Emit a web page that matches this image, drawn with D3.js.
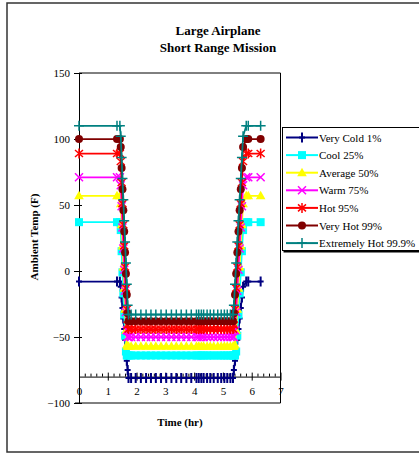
<!DOCTYPE html>
<html>
<head>
<meta charset="utf-8">
<script src="https://cdn.jsdelivr.net/npm/d3@7"></script>
<style>
  body { margin: 0; background: #fff; }
  svg { display: block; }
  text { font-family: "Liberation Serif", "Times New Roman", serif; fill: #000; }
</style>
</head>
<body>
<svg id="chart" width="419" height="454"></svg>
<script>
// Mission time points (hours): ground, climb, cruise, descent, ground
const timeHr = [0, 1.32, 1.42,
  1.45, 1.48, 1.51, 1.54, 1.57, 1.60, 1.63, 1.66, 1.69,
  1.72, 1.81, 1.97, 2.15, 2.33, 2.50, 2.67, 2.85, 3.03, 3.21, 3.38, 3.55, 3.73, 3.90,
  4.08, 4.16, 4.25, 4.33, 4.45, 4.56, 4.68, 4.82, 4.94, 5.05, 5.15, 5.26, 5.35,
  5.38, 5.42, 5.46, 5.50, 5.54, 5.58, 5.62, 5.66, 5.70,
  5.81, 5.88, 6.31];

// Ambient temperature (F) for each climate percentile
const veryCold = [-8, -8, -8,
  -12, -20, -28, -36, -44, -52, -60, -68, -75,
  -81, -81, -81, -81, -81, -81, -81, -81, -81, -81, -81, -81, -81, -81,
  -81, -81, -81, -81, -81, -81, -81, -81, -81, -81, -81, -81, -81,
  -75, -68, -60, -52, -44, -36, -28, -20, -12,
  -8, -8, -8];
const cool = [37, 37, 37,
  31, 15, -1, -17, -33, -49, -61, -64, -64,
  -64, -64, -64, -64, -64, -64, -64, -64, -64, -64, -64, -64, -64, -64,
  -64, -64, -64, -64, -64, -64, -64, -64, -64, -64, -64, -64, -64,
  -64, -64, -61, -49, -33, -17, -1, 15, 31,
  37, 37, 37];
const average = [57, 57, 57,
  51, 35, 19, 3, -13, -29, -45, -56, -57,
  -57, -57, -57, -57, -57, -57, -57, -57, -57, -57, -57, -57, -57, -57,
  -57, -57, -57, -57, -57, -57, -57, -57, -57, -57, -57, -57, -57,
  -57, -56, -45, -29, -13, 3, 19, 35, 51,
  57, 57, 57];
const warm = [71, 71, 71,
  65, 49, 33, 17, 1, -15, -31, -45, -50,
  -50, -50, -50, -50, -50, -50, -50, -50, -50, -50, -50, -50, -50, -50,
  -50, -50, -50, -50, -50, -50, -50, -50, -50, -50, -50, -50, -50,
  -50, -45, -31, -15, 1, 17, 33, 49, 65,
  71, 71, 71];
const hot = [89, 89, 89,
  83, 67, 51, 35, 19, 3, -13, -29, -41,
  -44, -44, -44, -44, -44, -44, -44, -44, -44, -44, -44, -44, -44, -44,
  -44, -44, -44, -44, -44, -44, -44, -44, -44, -44, -44, -44, -44,
  -41, -29, -13, 3, 19, 35, 51, 67, 83,
  89, 89, 89];
const veryHot = [100, 100, 100,
  94, 78, 62, 46, 30, 14, -2, -18, -32,
  -38, -38, -38, -38, -38, -38, -38, -38, -38, -38, -38, -38, -38, -38,
  -38, -38, -38, -38, -38, -38, -38, -38, -38, -38, -38, -38, -38,
  -32, -18, -2, 14, 30, 46, 62, 78, 94,
  100, 100, 100];
const extremelyHot = [110, 110, 110,
  102, 86, 70, 54, 38, 22, 6, -10, -26,
  -33, -33, -33, -33, -33, -33, -33, -33, -33, -33, -33, -33, -33, -33,
  -33, -33, -33, -33, -33, -33, -33, -33, -33, -33, -33, -33, -33,
  -26, -10, 6, 22, 38, 54, 70, 86, 102,
  110, 110, 110];

const seriesNames = ["Very Cold 1%", "Cool 25%", "Average 50%", "Warm 75%",
  "Hot 95%", "Very Hot 99%", "Extremely Hot 99.9%"];
const xTicks = [0, 1, 2, 3, 4, 5, 6, 7];
const yTicks = [-100, -50, 0, 50, 100, 150];

const series = [
  { name: seriesNames[0], values: veryCold,     color: "#000080", marker: "bar" },
  { name: seriesNames[1], values: cool,         color: "#00FFFF", marker: "square" },
  { name: seriesNames[2], values: average,      color: "#FFFF00", marker: "triangle" },
  { name: seriesNames[3], values: warm,         color: "#FF00FF", marker: "cross" },
  { name: seriesNames[4], values: hot,          color: "#FF0000", marker: "star" },
  { name: seriesNames[5], values: veryHot,      color: "#800000", marker: "circle" },
  { name: seriesNames[6], values: extremelyHot, color: "#008080", marker: "plus" }
];

const svg = d3.select("#chart");

// outer chart frame
svg.append("rect").attr("x", 7).attr("y", 3).attr("width", 430).attr("height", 449)
  .attr("fill", "#fff").attr("stroke", "#333").attr("stroke-width", 1.5);

const plot = { left: 79, right: 280.5, top: 73, bottom: 403 };
const x = d3.scaleLinear().domain([0, 7]).range([plot.left, plot.right]);
const y = d3.scaleLinear().domain([-100, 150]).range([plot.bottom, plot.top]);

// title
svg.append("text").attr("x", 218).attr("y", 35).attr("text-anchor", "middle")
  .attr("font-size", 13).attr("font-weight", "bold").text("Large Airplane");
svg.append("text").attr("x", 218).attr("y", 52).attr("text-anchor", "middle")
  .attr("font-size", 13).attr("font-weight", "bold").text("Short Range Mission");

// plot frame (top, right, bottom)
svg.append("path")
  .attr("d", `M${plot.left},${plot.top}H${plot.right}V${plot.bottom}H${plot.left - 4}`)
  .attr("fill", "none").attr("stroke", "#000").attr("stroke-width", 1);

// y axis
const yAxis = svg.append("g").attr("transform", `translate(${plot.left},0)`)
  .call(d3.axisLeft(y).tickValues(yTicks).tickSizeInner(5).tickSizeOuter(0).tickPadding(4)
    .tickFormat(d3.format("d")));
yAxis.selectAll("line").attr("x2", -5).attr("x1", 3);
yAxis.selectAll("text").attr("font-size", 11).attr("font-family", "Liberation Serif");
yAxis.select(".domain").attr("stroke", "#000");

// x axis drawn across the plot at -80 F
const xAxisY = y(-80);
const minorX = d3.range(0, 7.001, 0.2).filter(v => Math.abs(v - Math.round(v)) > 1e-6);
svg.append("g").attr("transform", `translate(0,${xAxisY})`)
  .call(d3.axisTop(x).tickValues(minorX).tickSize(3).tickFormat(""))
  .call(g => g.select(".domain").remove());
const xAxis = svg.append("g").attr("transform", `translate(0,${xAxisY})`)
  .call(d3.axisBottom(x).tickValues(xTicks).tickSizeInner(4).tickSizeOuter(0).tickPadding(7)
    .tickFormat(d3.format("d")));
xAxis.selectAll("line").attr("y1", -4);
xAxis.selectAll("text").attr("font-size", 11).attr("font-family", "Liberation Serif");

// axis titles
svg.append("text").attr("x", 180).attr("y", 426).attr("text-anchor", "middle")
  .attr("font-size", 11).attr("font-weight", "bold").text("Time (hr)");
svg.append("text").attr("transform", "translate(38,237) rotate(-90)")
  .attr("text-anchor", "middle").attr("font-size", 11).attr("font-weight", "bold")
  .text("Ambient Temp (F)");

// marker shapes
function drawMarker(g, type, color) {
  switch (type) {
    case "bar":
      g.append("path").attr("d", "M-3,0H3M0,-5V5").attr("stroke", color).attr("stroke-width", 2);
      break;
    case "square":
      g.append("rect").attr("x", -4).attr("y", -4).attr("width", 8).attr("height", 8).attr("fill", color);
      break;
    case "triangle":
      g.append("path").attr("d", "M0,-5L4.8,3.5L-4.8,3.5Z").attr("fill", color);
      break;
    case "cross":
      g.append("path").attr("d", "M-4,-4L4,4M-4,4L4,-4").attr("stroke", color).attr("stroke-width", 1.5);
      break;
    case "star":
      g.append("path").attr("d", "M-4,-3.5L4,3.5M-4,3.5L4,-3.5M0,-5V5").attr("stroke", color).attr("stroke-width", 1.5);
      break;
    case "circle":
      g.append("circle").attr("r", 4).attr("fill", color);
      break;
    case "plus":
      g.append("path").attr("d", "M-5,0H5M0,-5V5").attr("stroke", color).attr("stroke-width", 1.5);
      break;
  }
}

const line = d3.line().x((d, i) => x(timeHr[i])).y(d => y(d));

series.forEach(s => {
  const g = svg.append("g");
  g.append("path").attr("d", line(s.values)).attr("fill", "none")
    .attr("stroke", s.color).attr("stroke-width", 1.75);
  s.values.forEach((v, i) => {
    const m = g.append("g").attr("transform", `translate(${x(timeHr[i])},${y(v)})`);
    drawMarker(m, s.marker, s.color);
  });
});

// legend
const legend = svg.append("g");
legend.append("rect").attr("x", 283.5).attr("y", 129).attr("width", 150).attr("height", 123.5).attr("fill", "#000");
legend.append("rect").attr("x", 282.5).attr("y", 127.5).attr("width", 150).attr("height", 123)
  .attr("fill", "#fff").attr("stroke", "#000").attr("stroke-width", 1);
series.forEach((s, i) => {
  const ly = 137.5 + i * 17.6;
  legend.append("line").attr("x1", 286).attr("x2", 318).attr("y1", ly).attr("y2", ly)
    .attr("stroke", s.color).attr("stroke-width", 2);
  drawMarker(legend.append("g").attr("transform", `translate(302,${ly})`), s.marker, s.color);
  legend.append("text").attr("x", 319).attr("y", ly + 4).attr("font-size", 11).text(s.name);
});
</script>
</body>
</html>
